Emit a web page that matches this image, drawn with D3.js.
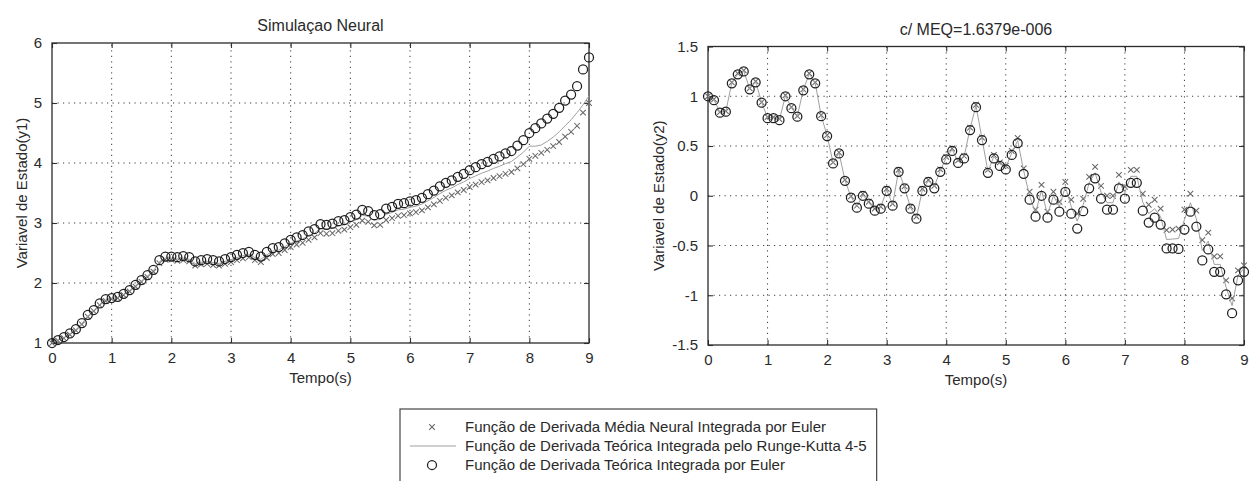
<!DOCTYPE html>
<html>
<head>
<meta charset="utf-8">
<script src="https://cdn.jsdelivr.net/npm/d3@7/dist/d3.min.js"></script>
<style>
  body { margin: 0; background: #fff; }
  svg { display: block; }
  text { font-family: "Liberation Sans", Arial, sans-serif; fill: #2a2a2a; }
</style>
</head>
<body>
<svg id="fig" width="1249" height="481"></svg>
<script>
// Sample instants (s)
const tempo = [0,0.1,0.2,0.3,0.4,0.5,0.6,0.7,0.8,0.9,1,1.1,1.2,1.3,1.4,1.5,1.6,1.7,1.8,1.9,
  2,2.1,2.2,2.3,2.4,2.5,2.6,2.7,2.8,2.9,3,3.1,3.2,3.3,3.4,3.5,3.6,3.7,3.8,3.9,
  4,4.1,4.2,4.3,4.4,4.5,4.6,4.7,4.8,4.9,5,5.1,5.2,5.3,5.4,5.5,5.6,5.7,5.8,5.9,
  6,6.1,6.2,6.3,6.4,6.5,6.6,6.7,6.8,6.9,7,7.1,7.2,7.3,7.4,7.5,7.6,7.7,7.8,7.9,
  8,8.1,8.2,8.3,8.4,8.5,8.6,8.7,8.8,8.9,9];

// State y1
const y1Neural = [1.00,1.04,1.08,1.14,1.21,1.31,1.44,1.53,1.63,1.70,
  1.73,1.75,1.80,1.86,1.94,2.02,2.10,2.19,2.33,2.39,
  2.39,2.37,2.38,2.36,2.29,2.31,2.32,2.30,2.29,2.32,
  2.35,2.38,2.41,2.43,2.38,2.35,2.42,2.48,2.50,2.55,
  2.60,2.64,2.67,2.72,2.76,2.83,2.82,2.83,2.87,2.89,
  2.93,2.97,3.04,3.02,2.96,2.97,3.05,3.08,3.12,3.13,
  3.16,3.18,3.21,3.26,3.31,3.37,3.42,3.46,3.51,3.55,
  3.60,3.64,3.68,3.71,3.75,3.78,3.82,3.85,3.91,3.98,
  4.07,4.12,4.17,4.22,4.28,4.35,4.44,4.52,4.62,4.84,
  5.00];
const y1RK = [1.00,1.045,1.09,1.15,1.22,1.32,1.45,1.54,1.645,1.715,
  1.74,1.76,1.81,1.87,1.955,2.035,2.115,2.205,2.355,2.415,
  2.415,2.40,2.415,2.395,2.325,2.345,2.36,2.34,2.325,2.36,
  2.39,2.425,2.455,2.475,2.425,2.395,2.47,2.53,2.55,2.605,
  2.66,2.70,2.735,2.79,2.83,2.905,2.895,2.91,2.95,2.97,
  3.015,3.055,3.13,3.11,3.045,3.06,3.145,3.175,3.22,3.23,
  3.26,3.28,3.315,3.37,3.425,3.49,3.545,3.585,3.64,3.685,
  3.74,3.785,3.83,3.865,3.91,3.945,3.99,4.025,4.10,4.18,
  4.28,4.28,4.30,4.36,4.43,4.52,4.62,4.72,4.84,4.97,
  5.12];
const y1Euler = [1.00,1.05,1.10,1.16,1.23,1.33,1.47,1.55,1.66,1.73,
  1.75,1.77,1.82,1.88,1.97,2.05,2.13,2.22,2.38,2.44,
  2.44,2.43,2.45,2.43,2.36,2.38,2.40,2.38,2.36,2.40,
  2.43,2.47,2.50,2.52,2.47,2.44,2.52,2.58,2.60,2.66,
  2.72,2.76,2.80,2.86,2.90,2.98,2.97,2.99,3.03,3.05,
  3.10,3.14,3.22,3.20,3.13,3.15,3.24,3.27,3.32,3.33,
  3.36,3.38,3.42,3.48,3.54,3.61,3.67,3.71,3.77,3.82,
  3.88,3.93,3.98,4.02,4.07,4.11,4.16,4.20,4.29,4.38,
  4.50,4.58,4.66,4.74,4.82,4.92,5.04,5.14,5.28,5.56,
  5.76];

// State y2
const y2Neural = [1.00,0.97,0.84,0.85,1.14,1.23,1.26,1.08,1.15,0.94,
  0.79,0.79,0.77,1.01,0.89,0.80,1.07,1.23,1.14,0.81,
  0.61,0.335,0.435,0.16,-0.005,-0.10,0.02,-0.06,-0.13,-0.11,
  0.07,-0.08,0.26,0.095,-0.11,-0.21,0.07,0.16,0.10,0.265,
  0.39,0.475,0.355,0.40,0.685,0.915,0.585,0.26,0.41,0.335,
  0.30,0.45,0.58,0.275,0.04,-0.14,0.11,-0.16,0.04,-0.06,
  0.14,-0.04,-0.18,-0.03,0.19,0.29,0.10,0.00,0.00,0.21,
  0.09,0.26,0.26,0.02,-0.09,-0.04,-0.13,-0.345,-0.34,-0.33,
  -0.14,0.02,-0.15,-0.445,-0.37,-0.61,-0.61,-0.85,-1.03,-0.75,
  -0.70];
const y2RK = [1.00,0.965,0.84,0.85,1.135,1.225,1.255,1.075,1.145,0.94,
  0.785,0.785,0.765,1.005,0.885,0.80,1.065,1.225,1.135,0.805,
  0.605,0.33,0.43,0.155,-0.01,-0.11,0.01,-0.07,-0.14,-0.12,
  0.06,-0.09,0.25,0.085,-0.12,-0.22,0.06,0.15,0.09,0.255,
  0.38,0.465,0.345,0.39,0.675,0.905,0.575,0.245,0.395,0.32,
  0.285,0.43,0.555,0.25,0.00,-0.175,0.055,-0.19,0.00,-0.11,
  0.09,-0.11,-0.255,-0.09,0.13,0.23,0.035,-0.07,-0.07,0.14,
  0.03,0.195,0.195,-0.065,-0.18,-0.13,-0.21,-0.44,-0.435,-0.43,
  -0.24,-0.07,-0.23,-0.55,-0.455,-0.69,-0.69,-0.92,-1.105,-0.80,
  -0.73];
const y2Euler = [1.00,0.96,0.835,0.845,1.13,1.22,1.25,1.07,1.14,0.935,
  0.78,0.78,0.76,1.00,0.88,0.795,1.06,1.22,1.13,0.80,
  0.60,0.325,0.425,0.15,-0.02,-0.12,0.00,-0.08,-0.15,-0.13,
  0.05,-0.10,0.24,0.075,-0.13,-0.23,0.05,0.14,0.075,0.24,
  0.365,0.45,0.33,0.375,0.66,0.89,0.56,0.23,0.375,0.30,
  0.265,0.41,0.53,0.22,-0.04,-0.21,0.00,-0.22,-0.04,-0.16,
  0.04,-0.18,-0.33,-0.155,0.075,0.175,-0.03,-0.14,-0.14,0.075,
  -0.03,0.13,0.13,-0.15,-0.27,-0.22,-0.29,-0.53,-0.53,-0.535,
  -0.34,-0.16,-0.31,-0.65,-0.54,-0.765,-0.765,-0.99,-1.18,-0.85,
  -0.765];

// Ticks and text
const xTicks = [0,1,2,3,4,5,6,7,8,9];
const y1Ticks = [1,2,3,4,5,6];
const y2Ticks = [-1.5,-1,-0.5,0,0.5,1,1.5];
const titles = ["Simulaçao Neural", "c/ MEQ=1.6379e-006"];
const yLabels = ["Variavel de Estado(y1)", "Variavel de Estado(y2)"];
const xLabel = "Tempo(s)";
const legendLabels = [
  "Função de Derivada Média Neural Integrada por Euler",
  "Função de Derivada Teórica Integrada pelo Runge-Kutta 4-5",
  "Função de Derivada Teórica Integrada por Euler"
];

const svg = d3.select("#fig");
const fmt = d => String(d);

function drawPanel(box, yTicks, yDomain, neural, rk, euler, title, yLabel, yLabelOffset) {
  const x = d3.scaleLinear().domain([0, 9]).range([box.left, box.right]);
  const y = d3.scaleLinear().domain(yDomain).range([box.bottom, box.top]);
  const g = svg.append("g");
  const W = box.right - box.left, H = box.bottom - box.top;

  // dotted grid
  const grid = g.append("g").attr("stroke", "#3a3a3a").attr("stroke-width", 1)
    .attr("stroke-dasharray", "1.2,4.3").attr("fill", "none");
  xTicks.slice(1, -1).forEach(t => grid.append("line")
    .attr("x1", x(t)).attr("x2", x(t)).attr("y1", box.bottom).attr("y2", box.top));
  yTicks.slice(1, -1).forEach(t => grid.append("line")
    .attr("x1", box.left).attr("x2", box.right).attr("y1", y(t)).attr("y2", y(t)));

  // axes with inward ticks on all sides
  const tl = 5;
  const axB = d3.axisBottom(x).tickValues(xTicks).tickSizeInner(-tl).tickSizeOuter(0).tickPadding(9).tickFormat(fmt);
  const axT = d3.axisTop(x).tickValues(xTicks).tickSizeInner(-tl).tickSizeOuter(0).tickFormat("");
  const axL = d3.axisLeft(y).tickValues(yTicks).tickSizeInner(-tl).tickSizeOuter(0).tickPadding(10).tickFormat(fmt);
  const axR = d3.axisRight(y).tickValues(yTicks).tickSizeInner(-tl).tickSizeOuter(0).tickFormat("");
  const style = sel => {
    sel.select(".domain").remove();
    sel.selectAll(".tick line").attr("stroke", "#333").attr("stroke-width", 1.1);
    sel.selectAll(".tick text").attr("font-size", 15).attr("fill", "#2a2a2a")
      .attr("font-family", '"Liberation Sans", Arial, sans-serif');
  };
  g.append("g").attr("transform", `translate(0,${box.bottom})`).call(axB).call(style);
  g.append("g").attr("transform", `translate(0,${box.top})`).call(axT).call(style);
  g.append("g").attr("transform", `translate(${box.left},0)`).call(axL).call(style);
  g.append("g").attr("transform", `translate(${box.right},0)`).call(axR).call(style);

  g.append("rect").attr("x", box.left).attr("y", box.top).attr("width", W).attr("height", H)
    .attr("fill", "none").attr("stroke", "#2a2a2a").attr("stroke-width", 1.3);

  // neural Euler: x markers
  const s = 2.8;
  g.append("g").attr("stroke", "#666").attr("stroke-width", 1.05).selectAll("path")
    .data(neural).join("path")
    .attr("d", (v, i) => {
      const cx = x(tempo[i]), cy = y(v);
      return `M${cx - s},${cy - s}L${cx + s},${cy + s}M${cx - s},${cy + s}L${cx + s},${cy - s}`;
    });

  // Runge-Kutta: thin gray line
  g.append("path").datum(rk)
    .attr("fill", "none").attr("stroke", "#a0a0a0").attr("stroke-width", 1)
    .attr("d", d3.line().x((v, i) => x(tempo[i])).y(v => y(v)));

  // theoretical Euler: circles
  g.append("g").attr("fill", "none").attr("stroke", "#1e1e1e").attr("stroke-width", 1.25)
    .selectAll("circle").data(euler).join("circle")
    .attr("cx", (v, i) => x(tempo[i])).attr("cy", v => y(v)).attr("r", 4.5);

  // titles and labels
  const cx = (box.left + box.right) / 2;
  g.append("text").attr("x", cx).attr("y", box.top - 12).attr("text-anchor", "middle")
    .attr("font-size", 16).text(title);
  g.append("text").attr("x", cx).attr("y", box.bottom + 40).attr("text-anchor", "middle")
    .attr("font-size", 15).text(xLabel);
  g.append("text").attr("transform", `translate(${box.left - yLabelOffset},${(box.top + box.bottom) / 2}) rotate(-90)`)
    .attr("text-anchor", "middle").attr("font-size", 15).text(yLabel);
}

drawPanel({left: 52, right: 589, top: 43, bottom: 343}, y1Ticks, [1, 6],
  y1Neural, y1RK, y1Euler, titles[0], yLabels[0], 25);
drawPanel({left: 708, right: 1244, top: 46.5, bottom: 345}, y2Ticks, [-1.5, 1.5],
  y2Neural, y2RK, y2Euler, titles[1], yLabels[1], 44);

// Legend
const lg = svg.append("g");
const lgLeft = 400, lgTop = 409, rowY = [427, 446, 465], markX = 432, textX = 465;
const frame = lg.append("rect").attr("x", lgLeft).attr("y", lgTop).attr("height", 80)
  .attr("fill", "#fff").attr("stroke", "#444").attr("stroke-width", 1.2);
const texts = lg.selectAll("text.lbl").data(legendLabels).join("text").attr("class", "lbl")
  .attr("x", textX).attr("y", (d, i) => rowY[i]).attr("dy", "0.36em")
  .attr("font-size", 15).text(d => d);
let maxW = 0;
texts.each(function () { maxW = Math.max(maxW, this.getComputedTextLength()); });
frame.attr("width", textX + maxW + 10 - lgLeft);
const s = 2.8;
lg.append("path").attr("stroke", "#666").attr("stroke-width", 1.05).attr("fill", "none")
  .attr("d", `M${markX - s},${rowY[0] - s}L${markX + s},${rowY[0] + s}M${markX - s},${rowY[0] + s}L${markX + s},${rowY[0] - s}`);
lg.append("line").attr("x1", 410).attr("x2", 456).attr("y1", rowY[1]).attr("y2", rowY[1])
  .attr("stroke", "#a0a0a0").attr("stroke-width", 1);
lg.append("circle").attr("cx", markX).attr("cy", rowY[2]).attr("r", 4.5)
  .attr("fill", "none").attr("stroke", "#1e1e1e").attr("stroke-width", 1.25);
</script>
</body>
</html>
